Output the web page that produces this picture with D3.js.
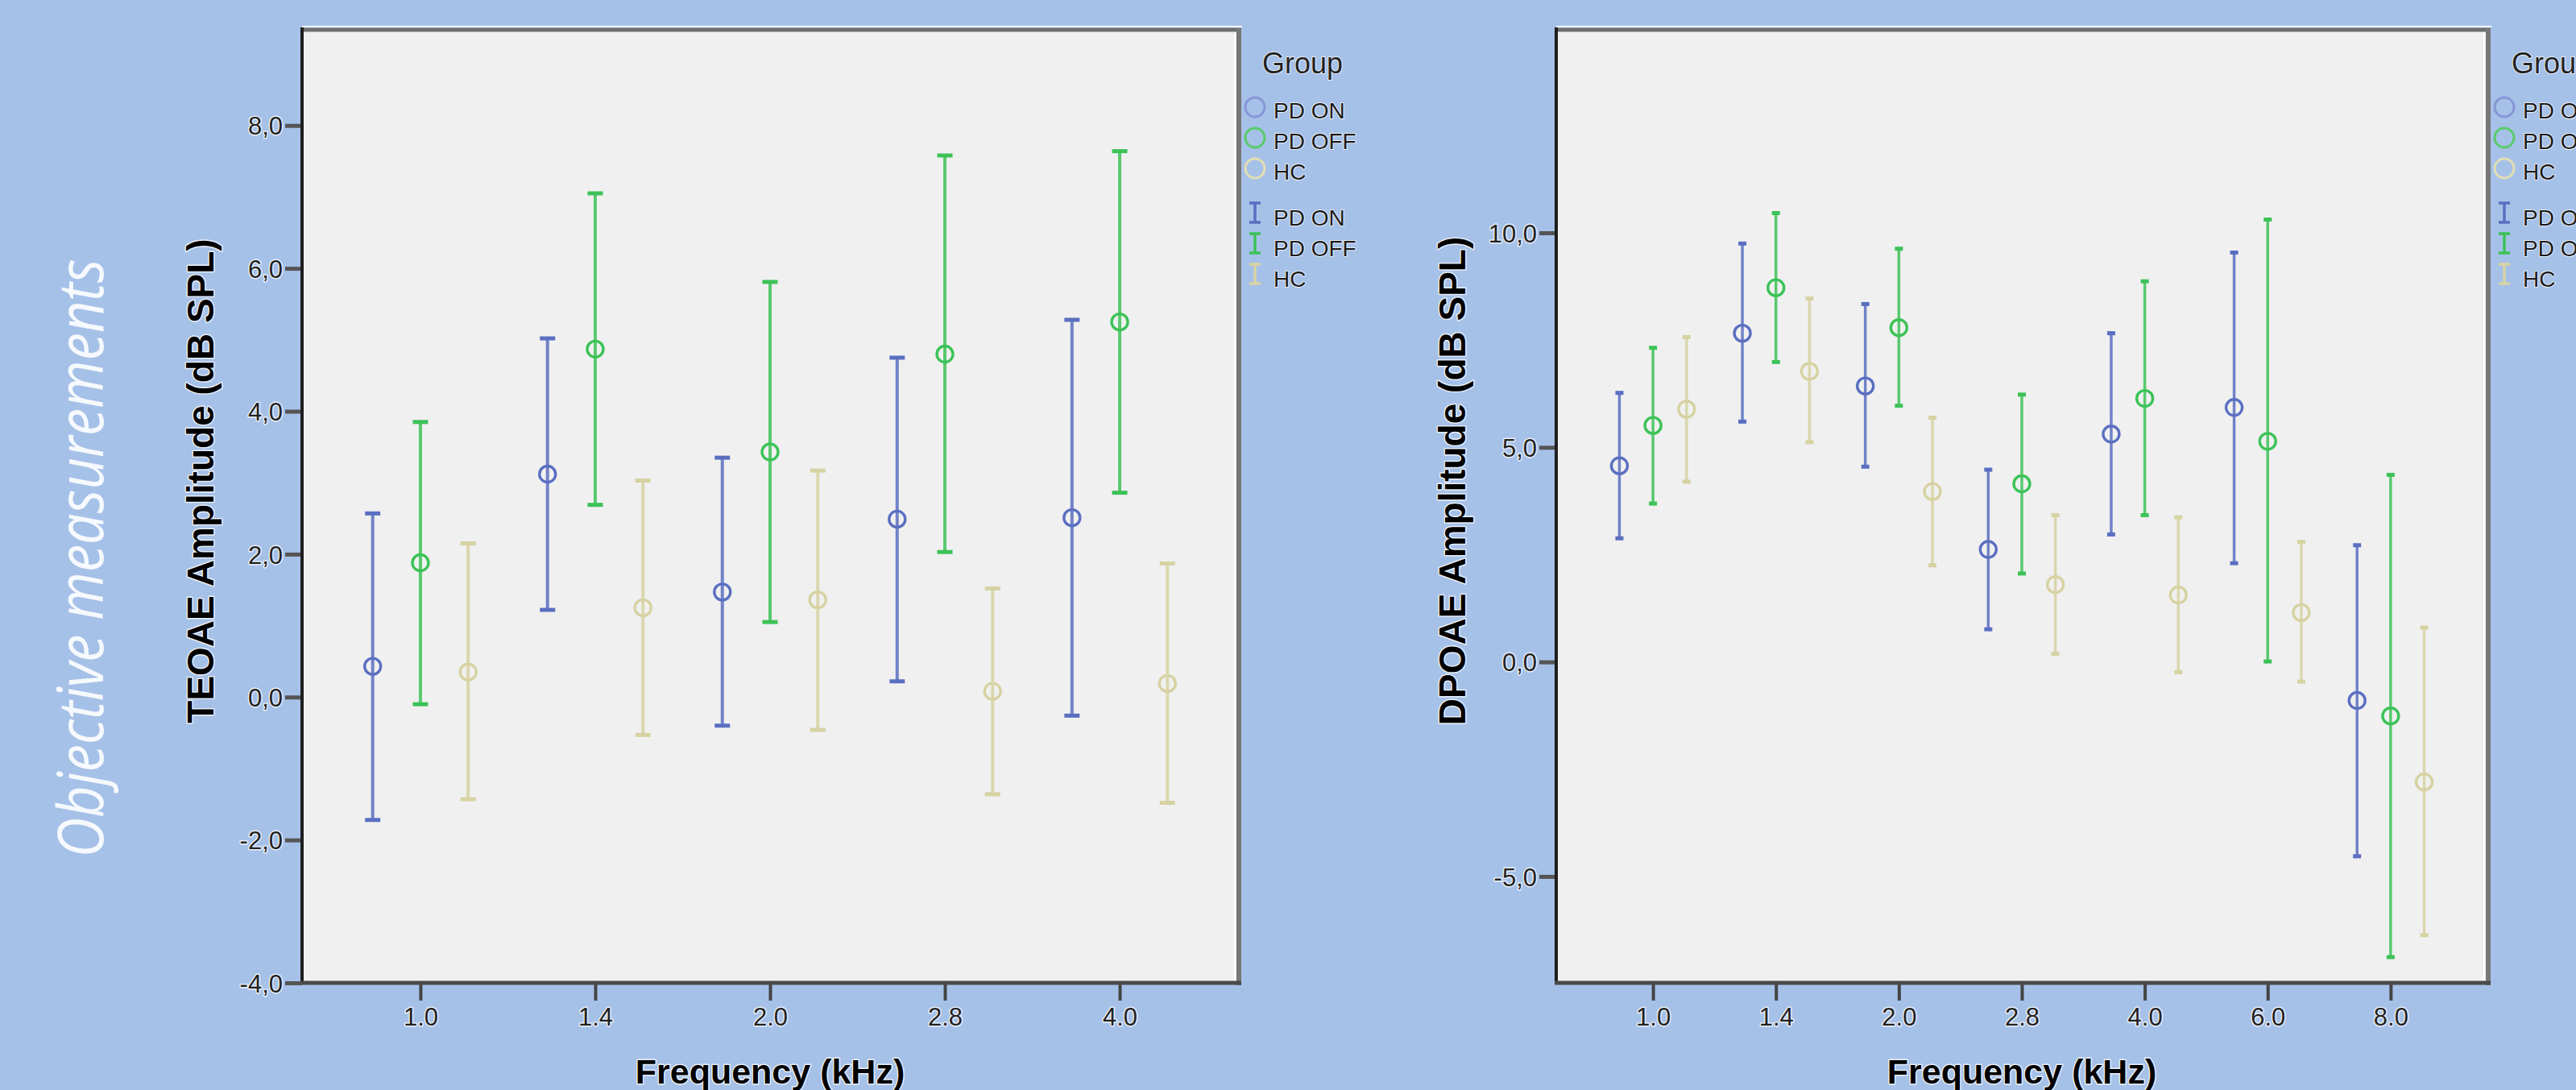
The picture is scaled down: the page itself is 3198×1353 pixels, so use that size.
<!DOCTYPE html>
<html><head><meta charset="utf-8">
<script src="https://cdn.jsdelivr.net/npm/d3@7"></script>
<style>html,body{margin:0;padding:0;background:#a6c1e8;overflow:hidden}</style>
</head><body><svg id="c" width="3198" height="1353"></svg>
<script>
// ---------------- DATA ----------------
const groups = ["PD ON", "PD OFF", "HC"];

// TEOAE (left chart)
const teoaeFreqs = ["1.0", "1.4", "2.0", "2.8", "4.0"];
const teoaeTicks = [-4, -2, 0, 2, 4, 6, 8];
const teoaeOnMean  = [0.43, 3.12, 1.47, 2.49, 2.51];
const teoaeOnLow   = [-1.72, 1.22, -0.40, 0.22, -0.26];
const teoaeOnHigh  = [2.57, 5.02, 3.35, 4.75, 5.28];
const teoaeOffMean = [1.88, 4.87, 3.43, 4.80, 5.25];
const teoaeOffLow  = [-0.10, 2.69, 1.05, 2.03, 2.86];
const teoaeOffHigh = [3.85, 7.05, 5.81, 7.58, 7.64];
const teoaeHcMean  = [0.35, 1.25, 1.36, 0.08, 0.19];
const teoaeHcLow   = [-1.43, -0.53, -0.46, -1.36, -1.48];
const teoaeHcHigh  = [2.15, 3.03, 3.17, 1.52, 1.87];

// DPOAE (right chart)
const dpoaeFreqs = ["1.0", "1.4", "2.0", "2.8", "4.0", "6.0", "8.0"];
const dpoaeTicks = [-5, 0, 5, 10];
const dpoaeOnMean  = [4.57, 7.66, 6.43, 2.62, 5.31, 5.93, -0.90];
const dpoaeOnLow   = [2.88, 5.60, 4.55, 0.76, 2.97, 2.30, -4.53];
const dpoaeOnHigh  = [6.27, 9.75, 8.34, 4.48, 7.66, 9.54, 2.72];
const dpoaeOffMean = [5.51, 8.72, 7.79, 4.15, 6.14, 5.14, -1.26];
const dpoaeOffLow  = [3.69, 6.99, 5.97, 2.06, 3.42, 0.01, -6.88];
const dpoaeOffHigh = [7.32, 10.46, 9.63, 6.23, 8.87, 10.31, 4.36];
const dpoaeHcMean  = [5.89, 6.77, 3.97, 1.80, 1.56, 1.15, -2.80];
const dpoaeHcLow   = [4.20, 5.12, 2.25, 0.19, -0.24, -0.46, -6.37];
const dpoaeHcHigh  = [7.57, 8.47, 5.69, 3.42, 3.37, 2.80, 0.80];

// ---------------- STYLE ----------------
const lineColors   = ["#5a6fc1", "#3cc257", "#d6d2a2"];
const legendColors = ["#8797d6", "#5acb6c", "#e2deb4"];
const FONT = "'Liberation Sans', Arial, sans-serif";

const svg = d3.select("#c");
svg.append("rect").attr("width", 3198).attr("height", 1353).attr("fill", "#a6c1e8");

// side caption
svg.append("text")
  .attr("transform", "translate(128,693) rotate(-90)")
  .attr("text-anchor", "middle")
  .attr("textLength", 743).attr("lengthAdjust", "spacingAndGlyphs")
  .style("font-family", "'Open Sans', Lato, sans-serif")
  .style("font-weight", 400).style("font-style", "italic")
  .style("font-size", "78px")
  .attr("fill", "#ffffff").attr("fill-opacity", 0.9)
  .text("Objective measurements");

const commaFmt = d3.formatLocale({decimal: ",", thousands: ".", grouping: [3], currency: ["", ""], minus: "-"}).format(".1f");

function halo(sel, w) {
  sel.attr("stroke", "#ffffff").attr("stroke-width", w).attr("stroke-opacity", 0.75)
     .attr("stroke-linejoin", "round").attr("paint-order", "stroke");
}

function drawChart(o) {
  const g = svg.append("g");
  const {left, right, top, bottom} = o;

  g.append("rect").attr("x", left).attr("y", top).attr("width", right - left)
    .attr("height", bottom - top).attr("fill", "#f0f0f0");

  const x = d3.scalePoint().domain(o.freqs).range([left, right]).padding(o.pad);
  const step = x.step();
  const xg = d3.scalePoint().domain(groups).range([-0.273 * step, 0.273 * step]);
  const y = d3.scaleLinear().domain(o.yDomain).range([bottom, top]);

  // frame (bevel look)
  g.append("line").attr("x1", left).attr("x2", right + 5).attr("y1", top - 3).attr("y2", top - 3)
    .attr("stroke", "#ffffff").attr("stroke-width", 2);
  g.append("line").attr("x1", left).attr("x2", right + 4).attr("y1", top + 1).attr("y2", top + 1)
    .attr("stroke", "#6f6f6f").attr("stroke-width", 5);
  g.append("line").attr("x1", right - 4).attr("x2", right - 4).attr("y1", top + 4).attr("y2", bottom)
    .attr("stroke", "#ffffff").attr("stroke-width", 2);
  g.append("line").attr("x1", right + 1).attr("x2", right + 1).attr("y1", top - 1).attr("y2", bottom + 3)
    .attr("stroke", "#777777").attr("stroke-width", 6);

  // y axis
  const ya = g.append("g").attr("transform", `translate(${left},0)`)
    .call(d3.axisLeft(y).tickValues(o.yTicks).tickSize(21).tickPadding(3).tickFormat(commaFmt));
  ya.select(".domain").remove();
  ya.selectAll(".tick line").attr("stroke", "#555555").attr("stroke-width", 5);
  ya.selectAll(".tick text").style("font-family", FONT).style("font-size", "31px")
    .attr("fill", "#222222").attr("dy", "0.36em").call(halo, 3);

  // x axis
  const xa = g.append("g").attr("transform", `translate(0,${bottom})`)
    .call(d3.axisBottom(x).tickSize(22).tickPadding(9));
  xa.select(".domain").remove();
  xa.selectAll(".tick line").attr("stroke", "#444444").attr("stroke-width", 4);
  xa.selectAll(".tick text").style("font-family", FONT).style("font-size", "31px")
    .attr("fill", "#222222").call(halo, 3);

  // axis lines
  g.append("line").attr("x1", left).attr("x2", left).attr("y1", top - 2).attr("y2", bottom + 2)
    .attr("stroke", "#1e1e1e").attr("stroke-width", 4);
  g.append("line").attr("x1", left - 2).attr("x2", right + 4).attr("y1", bottom).attr("y2", bottom)
    .attr("stroke", "#4a4a4a").attr("stroke-width", 5);

  // error bars + means
  groups.forEach((grp, gi) => {
    const col = lineColors[gi];
    const rows = o.freqs.map((f, i) => ({f, m: o.means[gi][i], lo: o.lows[gi][i], hi: o.highs[gi][i]}));
    const eg = g.append("g");
    eg.selectAll("line.v").data(rows).join("line")
      .attr("x1", d => x(d.f) + xg(grp)).attr("x2", d => x(d.f) + xg(grp))
      .attr("y1", d => y(d.lo)).attr("y2", d => y(d.hi))
      .attr("stroke", col).attr("stroke-width", o.lw).attr("stroke-opacity", 0.85);
    ["lo", "hi"].forEach(k => {
      eg.selectAll("line.c" + k).data(rows).join("line")
        .attr("x1", d => x(d.f) + xg(grp) - o.capW / 2).attr("x2", d => x(d.f) + xg(grp) + o.capW / 2)
        .attr("y1", d => y(d[k])).attr("y2", d => y(d[k]))
        .attr("stroke", col).attr("stroke-width", o.capH);
    });
    eg.selectAll("circle").data(rows).join("circle")
      .attr("cx", d => x(d.f) + xg(grp)).attr("cy", d => y(d.m)).attr("r", 10)
      .attr("fill", "none").attr("stroke", col).attr("stroke-width", 3.4);
  });

  // titles
  g.append("text").attr("transform", `translate(${o.yTitleX},597) rotate(-90)`)
    .attr("text-anchor", "middle").style("font-family", FONT).style("font-weight", "bold")
    .style("font-size", "46px").attr("fill", "#000").text(o.yTitle).call(halo, 3);
  g.append("text").attr("x", (left + right) / 2).attr("y", 1345)
    .attr("text-anchor", "middle").style("font-family", FONT).style("font-weight", "bold")
    .style("font-size", "43px").attr("fill", "#000").text("Frequency (kHz)").call(halo, 3);

  // legend
  const lx = right + 21;
  g.append("text").attr("x", lx + 9).attr("y", 91).style("font-family", FONT)
    .style("font-size", "36px").attr("fill", "#222").text("Group").call(halo, 2);
  const circY = [133, 171, 209], circT = [147, 185, 223];
  const barY = [264, 302, 340], barT = [280, 318, 356];
  groups.forEach((grp, gi) => {
    g.append("circle").attr("cx", lx).attr("cy", circY[gi]).attr("r", 12)
      .attr("fill", "none").attr("stroke", legendColors[gi]).attr("stroke-width", 3);
    g.append("text").attr("x", lx + 23).attr("y", circT[gi]).style("font-family", FONT)
      .style("font-size", "28px").attr("fill", "#1a1a1a").text(grp).call(halo, 2);
    g.append("path")
      .attr("d", `M${lx - 7},${barY[gi] - 12}h14M${lx},${barY[gi] - 12}v24M${lx - 7},${barY[gi] + 12}h14`)
      .attr("fill", "none").attr("stroke", gi === 2 ? "#d8d4a4" : lineColors[gi]).attr("stroke-width", 3.5);
    g.append("text").attr("x", lx + 23).attr("y", barT[gi]).style("font-family", FONT)
      .style("font-size", "28px").attr("fill", "#1a1a1a").text(grp).call(halo, 2);
  });
}

drawChart({
  left: 375, right: 1537, top: 36, bottom: 1220, pad: 0.677,
  freqs: teoaeFreqs, yDomain: [-4, 9.35], yTicks: teoaeTicks,
  means: [teoaeOnMean, teoaeOffMean, teoaeHcMean],
  lows: [teoaeOnLow, teoaeOffLow, teoaeHcLow],
  highs: [teoaeOnHigh, teoaeOffHigh, teoaeHcHigh],
  capW: 19, capH: 5, lw: 4,
  yTitle: "TEOAE Amplitude (dB SPL)", yTitleX: 265
});

drawChart({
  left: 1932, right: 3088, top: 36, bottom: 1220, pad: 0.787,
  freqs: dpoaeFreqs, yDomain: [-7.48, 14.75], yTicks: dpoaeTicks,
  means: [dpoaeOnMean, dpoaeOffMean, dpoaeHcMean],
  lows: [dpoaeOnLow, dpoaeOffLow, dpoaeHcLow],
  highs: [dpoaeOnHigh, dpoaeOffHigh, dpoaeHcHigh],
  capW: 10, capH: 5, lw: 3.5,
  yTitle: "DPOAE Amplitude (dB SPL)", yTitleX: 1819
});
</script>
</body></html>
